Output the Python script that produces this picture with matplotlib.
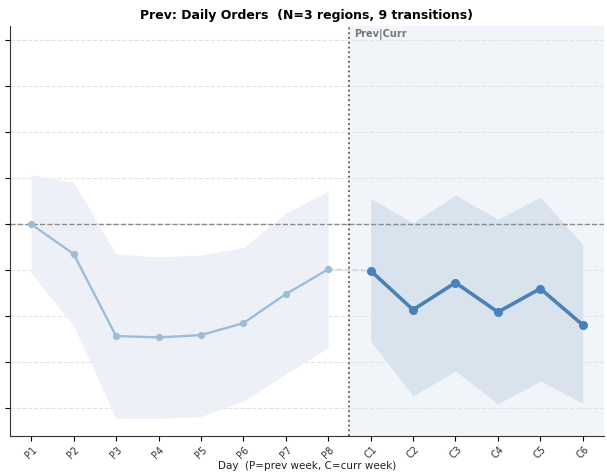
import matplotlib
matplotlib.use("Agg")
import matplotlib.pyplot as plt
import numpy as np

prev_labels = ["P1", "P2", "P3", "P4", "P5", "P6", "P7", "P8"]
curr_labels = ["C1", "C2", "C3", "C4", "C5", "C6"]

prev_mean = [0.0, -0.65, -2.43, -2.46, -2.41, -2.15, -1.52, -0.98]
prev_upper = [1.07, 0.91, -0.65, -0.71, -0.67, -0.51, 0.24, 0.72]
prev_lower = [-1.07, -2.21, -4.22, -4.22, -4.18, -3.84, -3.26, -2.68]

curr_mean = [-1.01, -1.86, -1.27, -1.91, -1.40, -2.19]
curr_upper = [0.56, 0.03, 0.63, 0.11, 0.59, -0.44]
curr_lower = [-2.54, -3.73, -3.19, -3.90, -3.41, -3.89]

yticks = [-4, -3, -2, -1, 0, 1, 2, 3, 4]

labels = prev_labels + curr_labels
n_prev = len(prev_labels)
xp = np.arange(n_prev)
xc = np.arange(n_prev, n_prev + len(curr_labels))
div = n_prev - 0.5

fig = plt.figure(figsize=(6.07, 4.77), dpi=100)
ax = fig.add_axes([0.0165, 0.084, 0.9785, 0.859])

ax.set_xlim(-0.5, len(labels) - 0.5)
ax.set_ylim(-4.6, 4.3)

ax.axvspan(div, len(labels) - 0.5, color="#f1f5fa", zorder=0)

ax.fill_between(xp, prev_lower, prev_upper, color="#edf1f7", lw=0, zorder=1)
ax.fill_between(xc, curr_lower, curr_upper, color="#d8e3ee", lw=0, zorder=1)

ax.plot(xp, prev_mean, color="#9dbcd8", lw=1.7, marker="o", ms=4.2, zorder=3)
ax.plot([xp[-1], xc[0]], [prev_mean[-1], curr_mean[0]], color="#c3d4e6", lw=1.1,
        ls="--", zorder=2)
ax.plot(xc, curr_mean, color="#4a82b8", lw=2.6, marker="o", ms=5.5, zorder=4)

ax.axhline(0, color="#8a8a8a", lw=1.0, ls="--", zorder=2)
ax.axvline(div, color="#555555", lw=1.3, ls=":", zorder=5)

ax.text(div + 0.12, 4.25, "Prev|Curr", color="#777777", fontsize=7,
        fontweight="bold", va="top", ha="left")

ax.set_yticks(yticks)
ax.set_yticklabels([])
ax.yaxis.grid(True, ls="--", color="#e3e3e3", lw=0.8)
ax.set_axisbelow(True)

ax.set_xticks(np.arange(len(labels)))
ax.set_xticklabels(labels, rotation=45, fontsize=7, color="#333333")
ax.tick_params(axis="x", pad=2)
ax.set_xlabel("Day  (P=prev week, C=curr week)", fontsize=7.5, color="#222222",
              labelpad=0)
ax.set_title("Prev: Daily Orders  (N=3 regions, 9 transitions)", fontsize=9,
             fontweight="bold", pad=6)

for s in ["top", "right"]:
    ax.spines[s].set_visible(False)
for s in ["left", "bottom"]:
    ax.spines[s].set_color("#333333")

fig.savefig("out.png", dpi=100)
